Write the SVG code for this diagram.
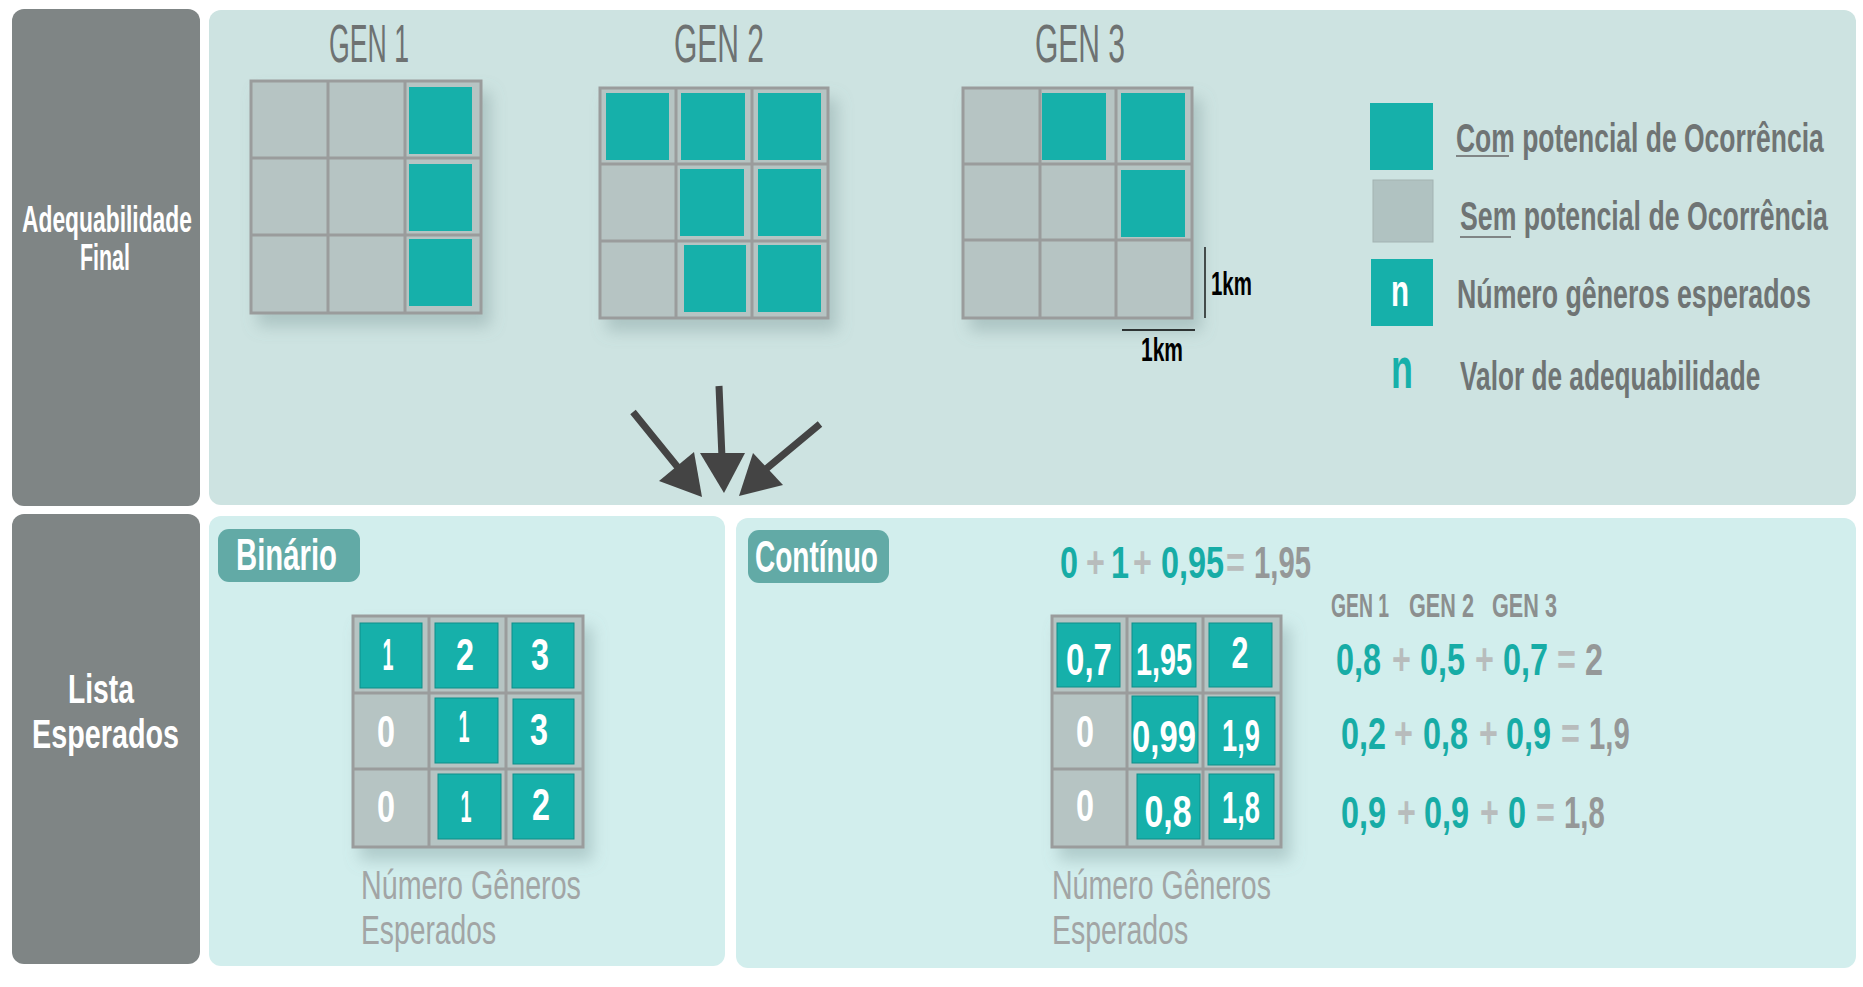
<svg xmlns="http://www.w3.org/2000/svg" width="1863" height="987" viewBox="0 0 1863 987">
<defs>
<filter id="sh" x="-20%" y="-20%" width="150%" height="150%"><feDropShadow dx="8" dy="12" stdDeviation="8" flood-color="#6d8c8a" flood-opacity="0.35"/></filter>
<style>
text{font-family:"Liberation Sans",Arial,sans-serif;}
.lb{fill:#fff;font-weight:bold;}
.gen{fill:#6e7272;font-size:54px;}
.leg{fill:#6f7474;font-weight:bold;font-size:40px;}
.km{fill:#000;font-weight:bold;font-size:33px;}
.wn{fill:#fff;font-weight:bold;font-size:44px;text-anchor:middle;}
.cap{fill:#a2a5a5;font-size:40px;}
.t{fill:#17aca6;font-weight:bold;font-size:45px;}
.p{fill:#b8bcbc;font-weight:bold;font-size:45px;}
.r{fill:#959898;font-weight:bold;font-size:45px;}
.sg{fill:#8c8f8f;font-weight:bold;font-size:33px;}
.panel{fill:#cde3e1;}
.panel2{fill:#d2eeed;}
.side{fill:#7f8585;}
.badge{fill:#62aaa6;}
.grid{fill:#b6c4c3;stroke:#9a9c9c;stroke-width:3;}
.gl{stroke:#9a9c9c;stroke-width:3;}
.tc{fill:#16b0aa;}
.tc2{fill:#16b0aa;stroke:#0e8e89;stroke-width:1;}
.big{stroke:#444;stroke-width:7;fill:none;}
.bh{fill:#444;}
.sa{fill:#939595;stroke:#5a5c5c;stroke-width:1;}
</style>
</defs>
<rect width="1863" height="987" fill="#fff"/>

<g id="row-adequabilidade">
<rect class="side" x="12" y="9" width="188" height="497" rx="12"/>
<text class="lb" font-size="37" transform="translate(22 232) scale(0.617 1)">Adequabilidade</text>
<text class="lb" font-size="37" transform="translate(80 270) scale(0.579 1)">Final</text>
</g>
<g id="panel-top">
<rect class="panel" x="209" y="10" width="1647" height="495" rx="12"/>
</g>

<g id="gen1">
<text class="gen" transform="translate(329 62) scale(0.494 1)">GEN 1</text>
<rect class="grid" x="251" y="81" width="230" height="232" filter="url(#sh)"/>
<rect class="tc" x="409" y="87" width="63" height="67"/>
<rect class="tc" x="409" y="164" width="63" height="67"/>
<rect class="tc" x="409" y="239" width="63" height="67"/>
<path class="gl" d="M328 81V313M405 81V313M251 158H481M251 235H481"/>
</g>

<g id="gen2">
<text class="gen" transform="translate(674 62) scale(0.556 1)">GEN 2</text>
<rect class="grid" x="600" y="88" width="228" height="230" filter="url(#sh)"/>
<rect class="tc" x="606" y="93" width="63" height="67"/>
<rect class="tc" x="681" y="93" width="64" height="67"/>
<rect class="tc" x="758" y="93" width="63" height="67"/>
<rect class="tc" x="680" y="169" width="64" height="67"/>
<rect class="tc" x="758" y="169" width="63" height="67"/>
<rect class="tc" x="684" y="245" width="62" height="67"/>
<rect class="tc" x="758" y="245" width="63" height="67"/>
<path class="gl" d="M676 88V318M752 88V318M600 164H828M600 241H828"/>
</g>

<g id="gen3">
<text class="gen" transform="translate(1035 62) scale(0.556 1)">GEN 3</text>
<rect class="grid" x="963" y="88" width="229" height="230" filter="url(#sh)"/>
<rect class="tc" x="1042" y="93" width="64" height="67"/>
<rect class="tc" x="1121" y="93" width="64" height="67"/>
<rect class="tc" x="1121" y="170" width="64" height="67"/>
<path class="gl" d="M1040 88V318M1116 88V318M963 164H1192M963 240H1192"/>
<path d="M1205 247V318M1122 330H1195" stroke="#000" stroke-width="1.3" fill="none"/>
<text class="km" transform="translate(1211 295) scale(0.62 1)">1km</text>
<text class="km" transform="translate(1141 361) scale(0.636 1)">1km</text>
</g>

<g id="legend">
<rect class="tc" x="1370" y="103" width="63" height="67"/>
<text class="leg" transform="translate(1456 152) scale(0.662 1)">Com potencial de Ocorrência</text>
<path d="M1456 156H1509" stroke="#666" stroke-width="1.5"/>
<rect x="1373" y="180" width="60" height="62" fill="#b0c2c1" stroke="#a3b3b2" stroke-width="1"/>
<text class="leg" transform="translate(1460 230) scale(0.6675 1)">Sem potencial de Ocorrência</text>
<path d="M1460 237H1511" stroke="#666" stroke-width="1.5"/>
<rect class="tc" x="1371" y="259" width="62" height="67"/>
<text class="lb" font-size="44" text-anchor="middle" transform="translate(1400 306) scale(0.67 1)">n</text>
<text class="leg" transform="translate(1457 308) scale(0.669 1)">Número gêneros esperados</text>
<text fill="#16b0aa" font-weight="bold" font-size="57" text-anchor="middle" transform="translate(1402 388) scale(0.63 1)">n</text>
<text class="leg" transform="translate(1460 390) scale(0.656 1)">Valor de adequabilidade</text>
</g>

<g id="connectors">
<path class="big" d="M633 412L680 470M719 386L722 458M820 424L766 469"/>
<polygon class="bh" points="659,481 694,452 702,497"/>
<polygon class="bh" points="700,453 745,453 724,493"/>
<polygon class="bh" points="753,453 783,485 739,496"/>
<polygon class="sa" points="1165,622 1165,600 1157,600 1167,587 1178,600 1169,600 1169,622"/>
<polygon class="sa" points="1272,656 1310,656 1310,647 1332,658 1310,669 1310,660 1272,660"/>
<polygon class="sa" points="1272,730.5 1310,730.5 1310,722 1332,732.5 1310,743 1310,734.5 1272,734.5"/>
<polygon class="sa" points="1270,812.5 1308,812.5 1308,804 1329,814.5 1308,825 1308,816.5 1270,816.5"/>
</g>

<g id="row-lista">
<rect class="side" x="12" y="514" width="188" height="450" rx="12"/>
<text class="lb" font-size="40" transform="translate(68 703) scale(0.707 1)">Lista</text>
<text class="lb" font-size="40" transform="translate(32 748) scale(0.719 1)">Esperados</text>
</g>

<g id="binario">
<rect class="panel2" x="209" y="516" width="516" height="450" rx="12"/>
<rect class="badge" x="218" y="529" width="142" height="53" rx="11"/>
<text class="lb" font-size="44" transform="translate(236 570) scale(0.666 1)">Binário</text>
<rect class="grid" x="353" y="616" width="230" height="231" filter="url(#sh)"/>
<rect class="tc2" x="360" y="623" width="62" height="65"/>
<rect class="tc2" x="435" y="623" width="63" height="65"/>
<rect class="tc2" x="512" y="623" width="62" height="65"/>
<rect class="tc2" x="435" y="698" width="63" height="65"/>
<rect class="tc2" x="513" y="699" width="61" height="65"/>
<rect class="tc2" x="438" y="774" width="63" height="65"/>
<rect class="tc2" x="513" y="774" width="61" height="65"/>
<path class="gl" d="M429 616V847M506 616V847M353 693H583M353 769H583"/>
<text class="wn" transform="translate(388 670) scale(0.45 1)">1</text>
<text class="wn" transform="translate(465 670) scale(0.735 1)">2</text>
<text class="wn" transform="translate(540 670) scale(0.735 1)">3</text>
<text class="wn" transform="translate(386 747) scale(0.735 1)">0</text>
<text class="wn" transform="translate(464 742) scale(0.45 1)">1</text>
<text class="wn" transform="translate(539 745) scale(0.735 1)">3</text>
<text class="wn" transform="translate(386 822) scale(0.735 1)">0</text>
<text class="wn" transform="translate(466 822) scale(0.45 1)">1</text>
<text class="wn" transform="translate(541 820) scale(0.735 1)">2</text>
<text class="cap" transform="translate(361 899) scale(0.717 1)">Número Gêneros</text>
<text class="cap" transform="translate(361 944) scale(0.707 1)">Esperados</text>
</g>

<g id="continuo">
<rect class="panel2" x="736" y="518" width="1120" height="450" rx="12"/>
<rect class="badge" x="748" y="530" width="141" height="53" rx="11"/>
<text class="lb" font-size="44" transform="translate(755 572) scale(0.637 1)">Contínuo</text>
<text class="t" transform="translate(1060 578) scale(0.72 1)">0</text>
<text class="p" transform="translate(1086 578) scale(0.72 1)">+</text>
<text class="t" transform="translate(1111 578) scale(0.72 1)">1</text>
<text class="p" transform="translate(1133 578) scale(0.72 1)">+</text>
<text class="t" transform="translate(1161 578) scale(0.72 1)">0,95</text>
<text class="p" transform="translate(1226 578) scale(0.72 1)">=</text>
<text class="r" transform="translate(1254 578) scale(0.65 1)">1,95</text>
<text class="sg" transform="translate(1331 617) scale(0.586 1)">GEN 1</text>
<text class="sg" transform="translate(1409 617) scale(0.656 1)">GEN 2</text>
<text class="sg" transform="translate(1492 617) scale(0.656 1)">GEN 3</text>
<rect class="grid" x="1052" y="616" width="229" height="231" filter="url(#sh)"/>
<rect class="tc2" x="1057" y="623" width="63" height="64"/>
<rect class="tc2" x="1132" y="623" width="64" height="64"/>
<rect class="tc2" x="1209" y="623" width="63" height="64"/>
<rect class="tc2" x="1132" y="696" width="66" height="67"/>
<rect class="tc2" x="1208" y="697" width="67" height="68"/>
<rect class="tc2" x="1137" y="774" width="63" height="65"/>
<rect class="tc2" x="1209" y="774" width="65" height="65"/>
<path class="gl" d="M1127 616V847M1203 616V847M1052 693H1281M1052 769H1281"/>
<text class="wn" transform="translate(1089 675) scale(0.75 1)">0,7</text>
<text class="wn" transform="translate(1164 675) scale(0.654 1)">1,95</text>
<text class="wn" transform="translate(1240 668) scale(0.69 1)">2</text>
<text class="wn" transform="translate(1085 747) scale(0.735 1)">0</text>
<text class="wn" transform="translate(1164 752) scale(0.745 1)">0,99</text>
<text class="wn" transform="translate(1241 751) scale(0.62 1)">1,9</text>
<text class="wn" transform="translate(1085 821) scale(0.735 1)">0</text>
<text class="wn" transform="translate(1168 827) scale(0.77 1)">0,8</text>
<text class="wn" transform="translate(1241 823) scale(0.62 1)">1,8</text>

<text class="t" transform="translate(1336 675) scale(0.72 1)">0,8</text>
<text class="p" transform="translate(1392 675) scale(0.72 1)">+</text>
<text class="t" transform="translate(1420 675) scale(0.72 1)">0,5</text>
<text class="p" transform="translate(1475 675) scale(0.72 1)">+</text>
<text class="t" transform="translate(1503 675) scale(0.72 1)">0,7</text>
<text class="p" transform="translate(1557 675) scale(0.72 1)">=</text>
<text class="r" transform="translate(1585 675) scale(0.72 1)">2</text>

<text class="t" transform="translate(1341 749) scale(0.72 1)">0,2</text>
<text class="p" transform="translate(1394 749) scale(0.72 1)">+</text>
<text class="t" transform="translate(1423 749) scale(0.72 1)">0,8</text>
<text class="p" transform="translate(1479 749) scale(0.72 1)">+</text>
<text class="t" transform="translate(1506 749) scale(0.72 1)">0,9</text>
<text class="p" transform="translate(1561 749) scale(0.72 1)">=</text>
<text class="r" transform="translate(1589 749) scale(0.65 1)">1,9</text>

<text class="t" transform="translate(1341 828) scale(0.72 1)">0,9</text>
<text class="p" transform="translate(1397 828) scale(0.72 1)">+</text>
<text class="t" transform="translate(1424 828) scale(0.72 1)">0,9</text>
<text class="p" transform="translate(1480 828) scale(0.72 1)">+</text>
<text class="t" transform="translate(1508 828) scale(0.72 1)">0</text>
<text class="p" transform="translate(1536 828) scale(0.72 1)">=</text>
<text class="r" transform="translate(1564 828) scale(0.65 1)">1,8</text>

<text class="cap" transform="translate(1052 899) scale(0.714 1)">Número Gêneros</text>
<text class="cap" transform="translate(1052 944) scale(0.712 1)">Esperados</text>
</g>
</svg>
